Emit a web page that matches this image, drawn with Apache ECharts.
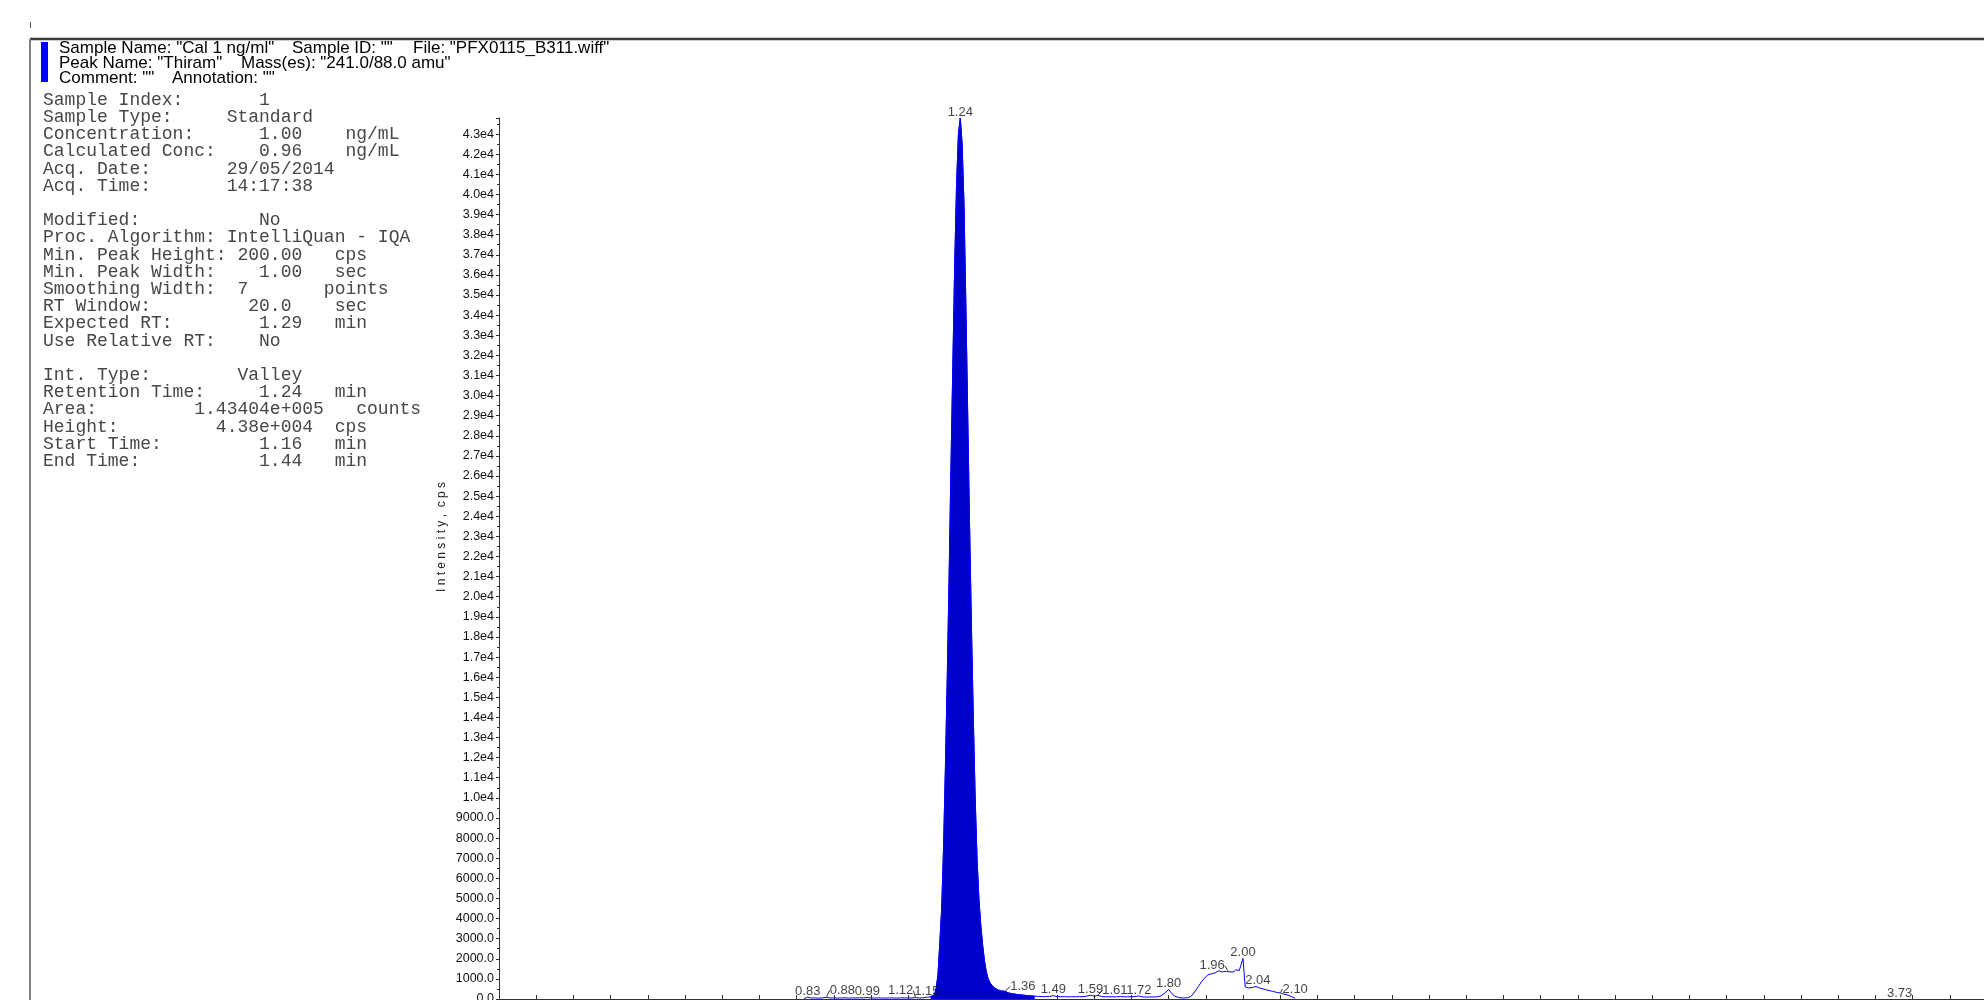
<!DOCTYPE html>
<html>
<head>
<meta charset="utf-8">
<script src="https://cdn.jsdelivr.net/npm/echarts@6/dist/echarts.min.js"></script>
<style>
  html, body { margin: 0; padding: 0; background: #ffffff; }
  #chart { width: 1984px; height: 1000px; }
</style>
</head>
<body>
<div id="chart"></div>
<script>
// ---- Sample header: [text, x] pieces per line ----
const headerLine1 = [['Sample Name: "Cal 1 ng/ml"', 59], ['Sample ID: ""', 292], ['File: "PFX0115_B311.wiff"', 413]];
const headerLine2 = [['Peak Name: "Thiram"', 59], ['Mass(es): "241.0/88.0 amu"', 241]];
const headerLine3 = [['Comment: ""', 59], ['Annotation: ""', 172]];

// ---- Quantitation report block (fixed-width columns) ----
const infoLines = [
  'Sample Index:       1',
  'Sample Type:     Standard',
  'Concentration:      1.00    ng/mL',
  'Calculated Conc:    0.96    ng/mL',
  'Acq. Date:       29/05/2014',
  'Acq. Time:       14:17:38',
  '',
  'Modified:           No',
  'Proc. Algorithm: IntelliQuan - IQA',
  'Min. Peak Height: 200.00   cps',
  'Min. Peak Width:    1.00   sec',
  'Smoothing Width:  7       points',
  'RT Window:         20.0    sec',
  'Expected RT:        1.29   min',
  'Use Relative RT:    No',
  '',
  'Int. Type:        Valley',
  'Retention Time:     1.24   min',
  'Area:         1.43404e+005   counts',
  'Height:         4.38e+004  cps',
  'Start Time:         1.16   min',
  'End Time:           1.44   min'
];

// ---- XIC trace: retention time (min) and intensity (cps) ----
const traceTime = [
  0.820, 0.825, 0.830, 0.835, 0.840, 0.850, 0.860, 0.870, 0.875, 0.880,
  0.885, 0.890, 0.900, 0.910, 0.920, 0.930, 0.940, 0.950, 0.960, 0.970,
  0.980, 0.990, 0.995, 1.000, 1.010, 1.020, 1.030, 1.040, 1.050, 1.060,
  1.070, 1.080, 1.090, 1.100, 1.110, 1.120, 1.125, 1.130, 1.140, 1.150,
  1.155, 1.160, 1.170, 1.175, 1.180, 1.185, 1.190, 1.195, 1.200, 1.205,
  1.210, 1.215, 1.220, 1.225, 1.230, 1.235, 1.240, 1.245, 1.250, 1.255,
  1.260, 1.265, 1.270, 1.275, 1.280, 1.285, 1.290, 1.295, 1.300, 1.305,
  1.310, 1.315, 1.320, 1.330, 1.340, 1.350, 1.360, 1.370, 1.380, 1.390,
  1.400, 1.410, 1.420, 1.430, 1.440, 1.450, 1.460, 1.470, 1.480, 1.490,
  1.495, 1.500, 1.510, 1.520, 1.530, 1.540, 1.550, 1.560, 1.570, 1.580,
  1.590, 1.595, 1.600, 1.610, 1.615, 1.620, 1.630, 1.640, 1.650, 1.660,
  1.670, 1.680, 1.690, 1.700, 1.710, 1.720, 1.725, 1.730, 1.740, 1.750,
  1.760, 1.770, 1.780, 1.790, 1.800, 1.805, 1.810, 1.815, 1.820, 1.830,
  1.840, 1.850, 1.860, 1.870, 1.880, 1.890, 1.895, 1.900, 1.905, 1.910,
  1.915, 1.920, 1.925, 1.930, 1.935, 1.940, 1.945, 1.950, 1.955, 1.960,
  1.965, 1.970, 1.975, 1.980, 1.985, 1.990, 1.995, 2.000, 2.003, 2.006,
  2.010, 2.015, 2.020, 2.025, 2.030, 2.035, 2.040, 2.045, 2.050, 2.060,
  2.070, 2.080, 2.090, 2.100, 2.105, 2.110, 2.120, 2.130, 2.140
];
const traceIntensity = [
  20, 70, 95, 60, 45, 55, 40, 60, 70, 85,
  60, 50, 55, 45, 50, 60, 45, 55, 50, 60,
  55, 75, 55, 50, 45, 55, 50, 45, 55, 50,
  45, 55, 50, 55, 50, 70, 55, 50, 60, 85,
  90, 110, 200, 500, 1200, 2800, 4500, 7500, 11500, 16000,
  21000, 26500, 31500, 36500, 40500, 43000, 43800, 42500, 39500, 34500,
  29000, 23500, 18500, 14000, 10000, 7000, 5000, 3700, 2700, 1900,
  1350, 1000, 800, 580, 460, 400, 380, 300, 260, 230,
  210, 190, 170, 155, 140, 130, 120, 115, 125, 165,
  130, 115, 110, 120, 105, 115, 110, 120, 115, 140,
  190, 150, 140, 185, 140, 120, 110, 115, 105, 110,
  120, 105, 110, 115, 120, 150, 120, 100, 95, 105,
  100, 110, 160, 300, 470, 380, 250, 150, 80, 60,
  50, 60, 120, 350, 620, 900, 1000, 1050, 1200, 1150,
  1250, 1200, 1300, 1280, 1400, 1330, 1350, 1300, 1380, 1400,
  1350, 1380, 1340, 1450, 1360, 1420, 1500, 2020, 1300, 600,
  580, 550, 600, 570, 560, 620, 650, 540, 500, 470,
  420, 380, 330, 300, 260, 240, 200, 120, 40
];

// ---- Integrated peak window (min) ----
const peakStart = 1.16;
const peakEnd = 1.44;

// ---- Apex labels: retention time (min) and apex intensity (cps) ----
const peakRT   = [0.83, 0.88, 0.99, 1.12, 1.15, 1.24, 1.36, 1.49, 1.59, 1.61, 1.72, 1.80, 1.96, 2.00, 2.04, 2.10, 3.73];
const peakApex = [95, 85, 75, 70, 85, 43800, 380, 165, 190, 185, 150, 470, 1400, 2020, 650, 300, 30];

// label displacement (px) for crowded apex labels; leader lines join them back to the apex
const labelNudge = {
  '0.88': [16, -1], '1.12': [-15, -1], '1.36': [18, 1], '1.61': [17, 1],
  '1.96': [-16, 1], '2.10': [15, 2], '3.73': [13, 1]
};
const leaderRT = ['0.88', '1.12', '1.36', '1.61', '1.96', '2.10'];

const trace = traceTime.map((t, i) => [t, traceIntensity[i]]);
const peakArea = trace.filter(p => p[0] >= peakStart && p[0] <= peakEnd);

const labelData = peakRT.map((rt, i) => ({
  value: [rt, peakApex[i]],
  labelLine: { show: leaderRT.includes(rt.toFixed(2)) }
}));

function yTickLabel(v) {
  if (v >= 10000) return (v / 10000).toFixed(1) + 'e4';
  return v.toFixed(1);
}

function headerText(pieces, y) {
  return pieces.map(([txt, x]) => ({
    type: 'text', x: x, y: y, silent: true,
    style: {
      text: txt,
      font: '17px "Liberation Sans", Arial, sans-serif',
      fill: '#000000',
      textVerticalAlign: 'middle'
    }
  }));
}

const chart = echarts.init(document.getElementById('chart'), null, { renderer: 'canvas' });

const option = {
  backgroundColor: '#ffffff',
  animation: false,
  grid: { left: 499, top: 118, right: -3, bottom: 1, containLabel: false, outerBoundsMode: 'none' },
  xAxis: {
    type: 'value',
    min: 0,
    max: 4.0,
    interval: 0.1,
    axisLine: { show: true, lineStyle: { color: '#333333', width: 1 } },
    axisTick: { show: true, inside: true, length: 4, lineStyle: { color: '#333333' } },
    axisLabel: { show: false },
    splitLine: { show: false }
  },
  yAxis: {
    type: 'value',
    min: 0,
    max: 43800,
    interval: 1000,
    axisLine: { show: true, lineStyle: { color: '#333333', width: 1 } },
    axisTick: { show: true, length: 3, lineStyle: { color: '#333333' } },
    minorTick: { show: true, splitNumber: 2, length: 2, lineStyle: { color: '#333333' } },
    axisLabel: {
      margin: 5,
      showMaxLabel: false,
      color: '#111111',
      fontFamily: 'Liberation Sans, Arial, sans-serif',
      fontSize: 12.5,
      formatter: yTickLabel
    },
    splitLine: { show: false }
  },
  series: [
    {
      name: 'Integrated peak',
      type: 'line',
      data: peakArea,
      showSymbol: false,
      symbol: 'none',
      lineStyle: { color: '#0000cc', width: 1 },
      areaStyle: { color: '#0000cc', opacity: 1 },
      z: 2
    },
    {
      name: 'XIC 241.0/88.0',
      type: 'line',
      data: trace,
      showSymbol: false,
      symbol: 'none',
      lineStyle: { color: '#0000ff', width: 1 },
      z: 3
    },
    {
      name: 'Apex RT',
      type: 'scatter',
      data: labelData,
      symbolSize: 1,
      itemStyle: { color: 'rgba(0,0,0,0)' },
      label: {
        show: true,
        position: 'top',
        distance: -1,
        color: '#111111',
        fontFamily: 'Liberation Sans, Arial, sans-serif',
        fontSize: 13,
        formatter: p => p.value[0].toFixed(2)
      },
      labelLine: { show: false, lineStyle: { color: '#333333', width: 1 } },
      labelLayout: p => {
        const key = peakRT[p.dataIndex].toFixed(2);
        const n = labelNudge[key];
        return n ? { dx: n[0], dy: n[1] } : {};
      },
      z: 4
    }
  ],
  graphic: [
    { type: 'line', shape: { x1: 30, y1: 39, x2: 1984, y2: 39 }, style: { stroke: '#3a3a3a', lineWidth: 2.5 }, silent: true },
    { type: 'line', shape: { x1: 30, y1: 39, x2: 30, y2: 1000 }, style: { stroke: '#808080', lineWidth: 2 }, silent: true },
    { type: 'line', shape: { x1: 30.5, y1: 22, x2: 30.5, y2: 28 }, style: { stroke: '#555555', lineWidth: 1 }, silent: true },
    { type: 'rect', shape: { x: 41, y: 42, width: 7, height: 40 }, style: { fill: '#0000ff' }, silent: true },
    ...headerText(headerLine1, 48.5),
    ...headerText(headerLine2, 63.5),
    ...headerText(headerLine3, 78.5),
    {
      type: 'text', x: 43, y: 91.4, silent: true,
      style: {
        text: infoLines.join('\n'),
        font: '18px "Liberation Mono", "Courier New", monospace',
        lineHeight: 17.2,
        fill: '#474747',
        textVerticalAlign: 'top'
      }
    },
    {
      type: 'text', x: 442, y: 537, rotation: Math.PI / 2, silent: true,
      style: {
        text: 'I n t e n s i t y ,  c p s',
        font: '12px "Liberation Sans", Arial, sans-serif',
        fill: '#222222',
        textAlign: 'center',
        textVerticalAlign: 'middle'
      }
    }
  ]
};

chart.setOption(option);
</script>
</body>
</html>
